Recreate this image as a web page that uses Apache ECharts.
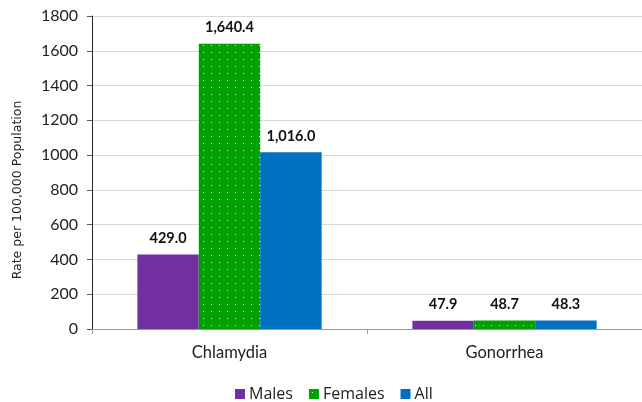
<!DOCTYPE html>
<html>
<head>
<meta charset="utf-8">
<script src="https://cdn.jsdelivr.net/npm/echarts@6/dist/echarts.min.js"></script>
<style>
  html, body { margin: 0; padding: 0; background: #fff; }
  #chart { width: 642px; height: 402px; }
</style>
</head>
<body>
<div id="chart"></div>
<script>
// Rates per 100,000 population by infection and sex
const categories = ['Chlamydia', 'Gonorrhea'];
const males = [429.0, 47.9];
const females = [1640.4, 48.7];
const allPeople = [1016.0, 48.3];
const seriesNames = ['Males', 'Females', 'All'];
const yTicks = [0, 200, 400, 600, 800, 1000, 1200, 1400, 1600, 1800];
const yTitle = 'Rate per 100,000 Population';

const FONT = 'Lato, "Open Sans", sans-serif';

// Dotted green fill for the Females bars
function dotPattern() {
  const c = document.createElement('canvas');
  c.width = 8; c.height = 7;
  const ctx = c.getContext('2d');
  ctx.fillStyle = '#00a000';
  ctx.fillRect(0, 0, 8, 7);
  ctx.fillStyle = 'rgba(235,255,225,0.9)';
  ctx.fillRect(3, 3, 1, 1);
  return c;
}

const fmt = v => v.toLocaleString('en-US', { minimumFractionDigits: 1, maximumFractionDigits: 1 });

const labelStyle = {
  show: true,
  position: 'top',
  distance: 9,
  fontFamily: FONT,
  fontWeight: 'bold',
  fontSize: 14.5,
  color: '#111',
  formatter: p => fmt(p.value)
};

const chart = echarts.init(document.getElementById('chart'), null, { renderer: 'canvas' });
chart.setOption({
  animation: false,
  textStyle: { fontFamily: FONT },
  grid: { left: 92, right: 0, top: 16, bottom: 73 },
  graphic: [{
    type: 'text',
    x: 18, y: 190,
    rotation: Math.PI / 2,
    style: {
      text: yTitle,
      fontFamily: '"DejaVu Sans", sans-serif',
      fontSize: 12.5,
      fill: '#222',
      align: 'center',
      verticalAlign: 'middle'
    }
  }],
  legend: {
    top: 381,
    left: 230,
    itemWidth: 10,
    itemHeight: 10,
    itemGap: 16,
    icon: 'rect',
    textStyle: { fontSize: 16, color: '#222', fontFamily: '"Open Sans", sans-serif', padding: [0, 0, 0, -1] },
    data: seriesNames
  },
  xAxis: {
    type: 'category',
    data: categories,
    axisLine: { lineStyle: { color: '#999', width: 1 } },
    axisTick: { show: true, length: 5, lineStyle: { color: '#999' } },
    axisLabel: { fontSize: 16.5, color: '#222', margin: 15, fontFamily: FONT }
  },
  yAxis: {
    type: 'value',
    min: yTicks[0],
    max: yTicks[yTicks.length - 1],
    interval: 200,
    axisLine: { show: true, lineStyle: { color: '#222', width: 1 } },
    axisTick: { show: true, inside: false, length: 5, lineStyle: { color: '#555' } },
    axisLabel: { fontSize: 16, color: '#222', margin: 14, fontFamily: FONT, formatter: v => String(v) },
    splitLine: { lineStyle: { color: '#d9d9d9', width: 1 } }
  },
  series: [
    {
      name: seriesNames[0], type: 'bar', data: males,
      barGap: '0%', barCategoryGap: '33%',
      itemStyle: { color: '#7030a0' },
      label: labelStyle
    },
    {
      name: seriesNames[1], type: 'bar', data: females,
      barGap: '0%', barCategoryGap: '33%',
      itemStyle: { color: { image: dotPattern(), repeat: 'repeat' } },
      label: labelStyle
    },
    {
      name: seriesNames[2], type: 'bar', data: allPeople,
      barGap: '0%', barCategoryGap: '33%',
      itemStyle: { color: '#0070c0' },
      label: labelStyle
    }
  ]
});
</script>
</body>
</html>
